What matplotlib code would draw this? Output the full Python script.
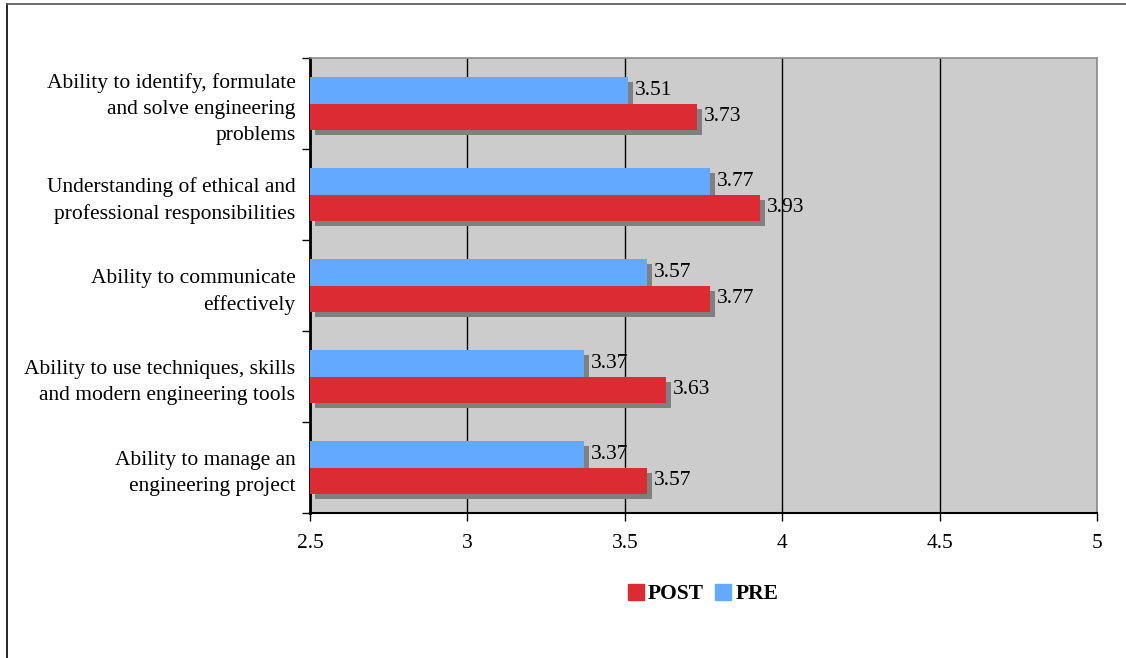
import matplotlib
matplotlib.use("Agg")
import matplotlib.pyplot as plt
import matplotlib.transforms as mtransforms
from matplotlib.lines import Line2D
import numpy as np

# data
categories = [
    "Ability to identify, formulate\nand solve engineering\nproblems",
    "Understanding of ethical and\nprofessional responsibilities",
    "Ability to communicate\neffectively",
    "Ability to use techniques, skills\nand modern engineering tools",
    "Ability to manage an\nengineering project",
]
pre_scores = [3.51, 3.77, 3.57, 3.37, 3.37]
post_scores = [3.73, 3.93, 3.77, 3.63, 3.57]
x_ticks = [2.5, 3, 3.5, 4, 4.5, 5]

PRE_COLOR = "#63a9ff"
POST_COLOR = "#dc2b33"
SHADOW = "#808080"
FS = 15.5

plt.rcParams["font.family"] = ["Liberation Serif", "DejaVu Serif"]

fig = plt.figure(figsize=(11.26, 6.58), dpi=100)
ax = fig.add_axes([310 / 1126, 1 - 513 / 658, 787 / 1126, (513 - 58) / 658])
ax.set_facecolor("#cccccc")

y = np.arange(len(categories))
h = 0.287

# drop shadow: same bars shifted 5px right and 5px down
shadow_tr = ax.transData + mtransforms.ScaledTranslation(5 / 100, -5 / 100, fig.dpi_scale_trans)
for vals, off in [(pre_scores, -h / 2), (post_scores, h / 2)]:
    ax.barh(y + off, np.array(vals) - 2.5, left=2.5, height=h, color=SHADOW,
            transform=shadow_tr, zorder=2, clip_on=False)

ax.barh(y - h / 2, np.array(pre_scores) - 2.5, left=2.5, height=h, color=PRE_COLOR,
        label="PRE", zorder=3)
ax.barh(y + h / 2, np.array(post_scores) - 2.5, left=2.5, height=h, color=POST_COLOR,
        label="POST", zorder=3)

label_tr = ax.transData + mtransforms.ScaledTranslation(7 / 100, 0, fig.dpi_scale_trans)
for i in range(len(categories)):
    ax.text(pre_scores[i], y[i] - h / 2, f"{pre_scores[i]:.2f}", va="center", ha="left",
            fontsize=FS, transform=label_tr, zorder=4)
    ax.text(post_scores[i], y[i] + h / 2, f"{post_scores[i]:.2f}", va="center", ha="left",
            fontsize=FS, transform=label_tr, zorder=4)

ax.set_xlim(2.5, 5)
ax.set_ylim(len(categories) - 0.5, -0.5)
ax.set_xticks(x_ticks)
ax.set_xticklabels([f"{t:g}" for t in x_ticks], fontsize=FS)
ax.tick_params(axis="x", length=6, width=1, pad=9, color="black")
ax.xaxis.grid(True, color="black", linewidth=1)
ax.set_axisbelow(True)

ax.set_yticks(y)
ax.set_yticklabels(categories, fontsize=FS, linespacing=1.5, ha="right")
ax.set_yticks(np.arange(-0.5, len(categories)), minor=True)
ax.tick_params(axis="y", which="major", length=0, pad=10.5)
ax.tick_params(axis="y", which="minor", length=6, width=1, color="black")

for s in ["top", "right"]:
    ax.spines[s].set_color("#8c8c8c")
    ax.spines[s].set_linewidth(1.2)
ax.spines["left"].set_linewidth(2)
ax.spines["bottom"].set_linewidth(1.5)

handles = [plt.Rectangle((0, 0), 1, 1, color=POST_COLOR), plt.Rectangle((0, 0), 1, 1, color=PRE_COLOR)]
fig.legend(handles, ["POST", "PRE"], loc="center", bbox_to_anchor=(703 / 1126, 1 - 594 / 658),
           ncol=2, frameon=False, prop={"weight": "bold", "size": FS},
           handlelength=0.75, handleheight=0.75, handletextpad=0.2, columnspacing=0.5)

# outer chart frame (left and top edges visible)
fig.add_artist(Line2D([7 / 1126, 7 / 1126], [0, 1 - 4 / 658], color="black", linewidth=1.2))
fig.add_artist(Line2D([7 / 1126, 1], [1 - 4 / 658, 1 - 4 / 658], color="#555555", linewidth=1.2))

fig.savefig("out.png", dpi=100)
